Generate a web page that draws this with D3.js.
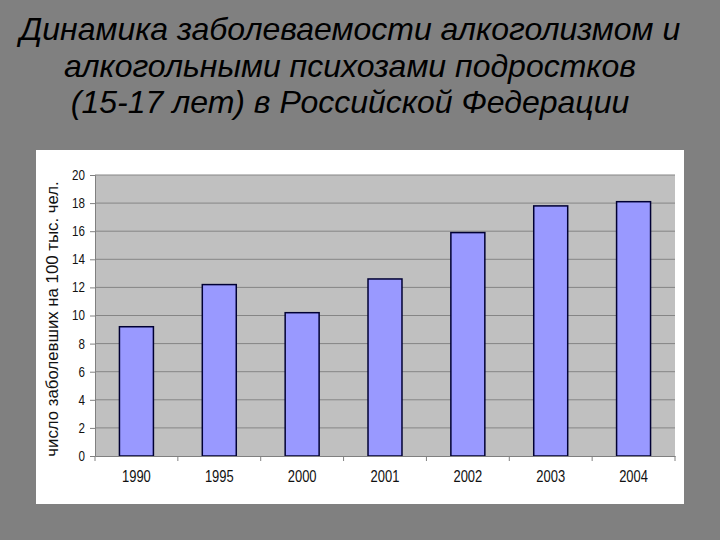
<!DOCTYPE html>
<html>
<head>
<meta charset="utf-8">
<script src="https://d3js.org/d3.v7.min.js"></script>
<style>
  body { margin: 0; background: #808080; }
  svg { display: block; }
</style>
</head>
<body>
<svg id="chart" width="720" height="540"></svg>
<script>
// chart data
var years = ["1990", "1995", "2000", "2001", "2002", "2003", "2004"];
var rates = [9.2, 12.2, 10.2, 12.6, 15.9, 17.8, 18.1];
var yTicks = [0, 2, 4, 6, 8, 10, 12, 14, 16, 18, 20];
var titleLines = [
  "Динамика заболеваемости алкоголизмом и",
  "алкогольными психозами подростков",
  "(15-17 лет) в Российской Федерации"
];
var yLabel = "число заболевших на 100 тыс. чел.";

var svg = d3.select("#chart");
var font = "Liberation Sans, Arial, sans-serif";

svg.append("rect").attr("width", 720).attr("height", 540).attr("fill", "#808080");

// title
svg.append("g").selectAll("text")
  .data(titleLines)
  .enter().append("text")
  .attr("x", 350)
  .attr("y", function(d, i) { return 40 + i * 36.5; })
  .attr("text-anchor", "middle")
  .style("font-family", font)
  .style("font-style", "italic")
  .style("font-size", "32px")
  .attr("fill", "#000")
  .text(function(d) { return d; });

// white chart panel
svg.append("rect")
  .attr("x", 36).attr("y", 150)
  .attr("width", 648).attr("height", 354)
  .attr("fill", "#fff");

var pLeft = 95, pRight = 675, pTop = 175, pBottom = 456;

var x = d3.scaleBand().domain(years).range([pLeft, pRight]).paddingInner(0).paddingOuter(0);
var y = d3.scaleLinear().domain([0, 20]).range([pBottom, pTop]);

// plot area
svg.append("rect")
  .attr("x", pLeft).attr("y", pTop)
  .attr("width", pRight - pLeft).attr("height", pBottom - pTop)
  .attr("fill", "#c0c0c0");

// gridlines
svg.append("g").selectAll("line")
  .data(yTicks.filter(function(d) { return d > 0; }))
  .enter().append("line")
  .attr("x1", pLeft).attr("x2", pRight)
  .attr("y1", function(d) { return y(d); })
  .attr("y2", function(d) { return y(d); })
  .attr("stroke", "#858585")
  .attr("stroke-width", 1);

// bars
var bw = x.bandwidth() * 0.41;
svg.append("g").selectAll("rect")
  .data(rates)
  .enter().append("rect")
  .attr("x", function(d, i) { return x(years[i]) + x.bandwidth() / 2 - bw / 2; })
  .attr("y", function(d) { return y(d); })
  .attr("width", bw)
  .attr("height", function(d) { return pBottom - y(d); })
  .attr("fill", "#9999ff")
  .attr("stroke", "#000033")
  .attr("stroke-width", 1.5);

// axes (labels are narrow in the original, so squeeze them a bit)
var yAxis = d3.axisLeft(y).tickValues(yTicks).tickSize(5).tickPadding(7);
var gy = svg.append("g").attr("transform", "translate(" + pLeft + ",0)").call(yAxis);
gy.select(".domain").attr("stroke", "#808080");
gy.selectAll(".tick line").attr("stroke", "#808080");
gy.selectAll("text")
  .attr("transform", "scale(0.83,1)")
  .style("font-family", font)
  .style("font-size", "14px")
  .attr("fill", "#111");

var xAxis = d3.axisBottom(x).tickSize(0).tickPadding(15);
var gx = svg.append("g").attr("transform", "translate(0," + pBottom + ")").call(xAxis);
gx.select(".domain").attr("stroke", "#808080");
gx.selectAll("text")
  .attr("transform", "scale(0.81,1)")
  .style("font-family", font)
  .style("font-size", "16px")
  .attr("fill", "#111");

// category separators below the axis
svg.append("g").selectAll("line")
  .data(years.concat(["end"]))
  .enter().append("line")
  .attr("x1", function(d, i) { return pLeft + i * x.step(); })
  .attr("x2", function(d, i) { return pLeft + i * x.step(); })
  .attr("y1", pBottom).attr("y2", pBottom + 5)
  .attr("stroke", "#808080");

// y axis title
svg.append("text")
  .attr("transform", "translate(58,319) rotate(-90)")
  .attr("text-anchor", "middle")
  .style("font-family", font)
  .style("font-size", "16.8px")
  .attr("fill", "#111")
  .text(yLabel);
</script>
</body>
</html>
